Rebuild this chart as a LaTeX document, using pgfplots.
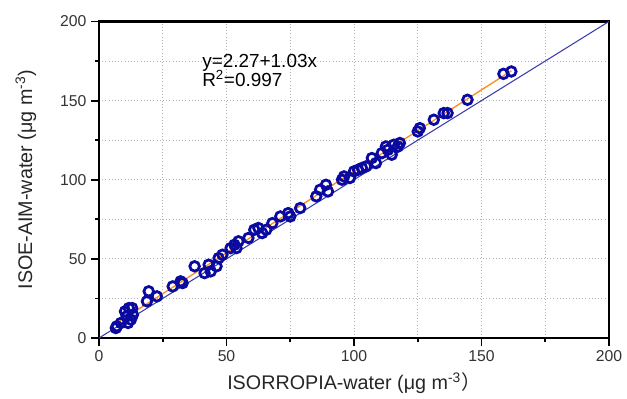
\documentclass[border=0pt]{standalone}
\usepackage{pgfplots}
\pgfplotsset{compat=1.18}
\usepackage{fontspec}
\setmainfont{Liberation Sans}
\newfontfamily\cjk{Noto Sans CJK SC}
\definecolor{navy}{RGB}{10,10,160}
\definecolor{oneline}{RGB}{60,60,175}
\definecolor{fitorange}{RGB}{255,140,30}
\definecolor{gridgray}{RGB}{180,180,180}
\begin{document}
\begin{tikzpicture}
\begin{axis}[
  name=ax,
  scale only axis,
  width=382.5pt, height=237.4pt,
  xmin=0, xmax=200, ymin=0, ymax=200,
  xtick={0,50,100,150,200}, ytick={0,50,100,150,200},
  minor tick num=1,
  tick align=outside,
  xtick pos=left, ytick pos=left,
  major tick length=6pt, minor tick length=3pt,
  every tick/.style={black, line width=1.4pt},
  axis line style={line width=1.6pt},
  grid=both,
  major grid style={gridgray, dotted, line width=0.6pt},
  minor grid style={gridgray, dotted, line width=0.6pt},
  /pgf/number format/assume math mode=true,
  ticklabel style={font=\fontsize{11.8}{13}\selectfont, text=black!80},
  xlabel={ISORROPIA-water (μg m\textsuperscript{-3}{\cjk ）}},
  ylabel={ISOE-AIM-water (μg m\textsuperscript{-3})},
  label style={font=\fontsize{14.8}{16}\selectfont, text=black!85},
  xlabel style={at={(axis description cs:0.5,-0.164)}, anchor=base},
  ylabel style={at={(axis description cs:-0.131,0.5)}, anchor=base},
  clip=false,
]
\addplot[oneline, line width=0.8pt] coordinates {(0,0) (200,200)};
\addplot[only marks, mark=o, mark size=3.6pt, navy, mark options={line width=2.1pt}] coordinates {
(6.6,6.3) (7,7.4) (8.6,9.5) (10.2,16.8) (10.9,13.7) (11.7,18.9) (12.5,11.6)
(13.3,14.7) (13,18.9) (11.4,9.5) (19.5,29.5) (18.8,23.2) (22.7,26.3)
(28.9,32.6) (32,35.8) (32.8,34.7) (37.5,45.3) (41.4,41) (43,46.3)
(43.8,42.1) (46.1,45.3) (46.9,50.5) (48.4,52.6) (51.6,56.8) (53.1,58.9)
(54.7,61.1) (53.9,56.8) (58.6,63.2) (60.9,68.4) (62.5,69.5) (64,66.3)
(65.6,68.4) (68,72.6) (71.1,76.8) (74.2,78.9) (75,76.8) (78.9,82.1)
(85.2,89.5) (86.7,93.7) (89,96.8) (89.8,92.6) (95.3,100) (96.1,102.1)
(98.4,101.1) (100,105.3) (101.6,106.3) (103.1,107.4) (104.7,108.4)
(107,113.7) (108.6,110.5) (110.9,116.8) (112.5,121) (113.3,118.9)
(114.8,115.8) (115.6,122.1) (117.2,121) (118,123.2) (125,130.5)
(125.8,132.6) (131.3,137.9) (135.2,142.1) (136.7,142.1) (144.5,150.5)
(158.6,166.9) (161.7,168.4)
};
\addplot[fitorange, line width=1pt] coordinates {(6.6,9.07) (161.7,168.82)};
\node[anchor=base west, font=\fontsize{14.2}{16}\selectfont, inner sep=0pt] at (axis cs:40.4,171.2) {y=2.27+1.03x};
\node[anchor=base west, font=\fontsize{14.2}{16}\selectfont, inner sep=0pt] at (axis cs:40.4,158.8) {R\textsuperscript{2}=0.997};
\end{axis}
\path (ax.south west) ++(-74.25pt,-42pt) coordinate (bbsw);
\path (ax.north east) ++(13.5pt,16.1pt) coordinate (bbne);
\path[use as bounding box] (bbsw) rectangle (bbne);
\end{tikzpicture}
\end{document}
